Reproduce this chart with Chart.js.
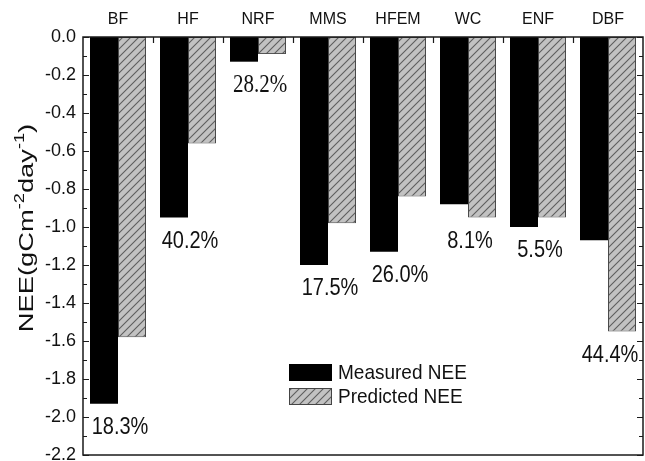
<!DOCTYPE html>
<html>
<head>
<meta charset="utf-8">
<script src="https://cdn.jsdelivr.net/npm/chart.js@4.4.1/dist/chart.umd.min.js"></script>
<style>
  html, body { margin: 0; padding: 0; background: #fff; }
  #wrap { width: 645px; height: 461px; }
</style>
</head>
<body>
<div id="wrap"><canvas id="c" width="645" height="461"></canvas></div>
<script>
// Ecosystem types and daily net ecosystem exchange (gC m-2 day-1)
const sites = ['BF', 'HF', 'NRF', 'MMS', 'HFEM', 'WC', 'ENF', 'DBF'];
const measuredNEE = [-1.93, -0.95, -0.13, -1.20, -1.13, -0.88, -1.00, -1.07];
const predictedNEE = [-1.58, -0.56, -0.09, -0.98, -0.84, -0.95, -0.95, -1.55];
// Relative error of the prediction for each site
const errorLabels = ['18.3%', '40.2%', '28.2%', '17.5%', '26.0%', '8.1%', '5.5%', '44.4%'];
const yTicks = [0.0, -0.2, -0.4, -0.6, -0.8, -1.0, -1.2, -1.4, -1.6, -1.8, -2.0, -2.2];

const SANS = 'Arial, "Liberation Sans", Helvetica, sans-serif';
const SERIF = '"Times New Roman", "Liberation Serif", serif';

// Diagonal hatch fill for the predicted bars
function makeHatch() {
  const s = 8;
  const p = document.createElement('canvas');
  p.width = s; p.height = s;
  const g = p.getContext('2d');
  g.fillStyle = '#c2c2c2';
  g.fillRect(0, 0, s, s);
  g.strokeStyle = '#5e5e5e';
  g.lineWidth = 1.1;
  g.beginPath();
  g.moveTo(0, s); g.lineTo(s, 0);
  g.moveTo(-s / 2, s / 2); g.lineTo(s / 2, -s / 2);
  g.moveTo(s / 2, s * 1.5); g.lineTo(s * 1.5, s / 2);
  g.stroke();
  return g.createPattern(p, 'repeat');
}
const hatch = makeHatch();

// Text drawn slightly taller than its width
function tallText(ctx, text, x, y, sy) {
  ctx.save();
  ctx.translate(x, y);
  ctx.scale(1, sy);
  ctx.fillText(text, 0, 0);
  ctx.restore();
}

// Frame, inward ticks, error labels, legend and the y-axis title
const decorations = {
  id: 'decorations',
  afterDatasetsDraw(chart) {
    const ctx = chart.ctx;
    const a = chart.chartArea;
    const y = chart.scales.y;
    const x = chart.scales.x;
    ctx.save();

    // frame
    ctx.strokeStyle = '#1a1a1a';
    ctx.lineWidth = 1.5;
    ctx.strokeRect(a.left, a.top, a.right - a.left, a.bottom - a.top);

    // inward ticks on left and right axes, every 0.1
    ctx.lineWidth = 1.2;
    ctx.beginPath();
    for (let i = 0; i <= 22; i++) {
      const py = Math.round(y.getPixelForValue(-i / 10)) + 0.5;
      const len = i % 2 === 0 ? 6 : 4;
      ctx.moveTo(a.left, py); ctx.lineTo(a.left + len, py);
      ctx.moveTo(a.right, py); ctx.lineTo(a.right - len, py);
    }
    // category boundary ticks on the top axis
    const n = sites.length;
    const step = (a.right - a.left) / n;
    for (let i = 1; i < n; i++) {
      const px = Math.round(a.left + i * step) + 0.5;
      ctx.moveTo(px, a.top); ctx.lineTo(px, a.top + 6);
    }
    ctx.stroke();

    // error labels under the deeper bar of each pair
    ctx.fillStyle = '#111';
    ctx.textAlign = 'center';
    ctx.textBaseline = 'middle';
    errorLabels.forEach((t, i) => {
      const deepest = Math.min(measuredNEE[i], predictedNEE[i]);
      const px = x.getPixelForValue(i);
      const py = y.getPixelForValue(deepest) + 24;
      ctx.font = (i === 2 ? '21px ' + SERIF : '20px ' + SANS);
      tallText(ctx, t, px + 2, py, 1.15);
    });

    // legend
    const lx = 289, lw = 43, lh = 17;
    const rows = [
      { y: 364, fill: '#000', stroke: null, label: chart.data.datasets[0].label },
      { y: 388, fill: hatch, stroke: '#444', label: chart.data.datasets[1].label }
    ];
    ctx.textAlign = 'left';
    ctx.font = '19px ' + SANS;
    rows.forEach(r => {
      ctx.fillStyle = r.fill;
      ctx.fillRect(lx, r.y, lw, lh);
      if (r.stroke) {
        ctx.strokeStyle = r.stroke;
        ctx.lineWidth = 1;
        ctx.strokeRect(lx + 0.5, r.y + 0.5, lw - 1, lh - 1);
      }
      ctx.fillStyle = '#111';
      tallText(ctx, r.label, lx + lw + 6, r.y + lh / 2 + 1, 1.1);
    });

    // y-axis title with superscripts
    const parts = [
      { t: 'NEE(gCm', sup: false }, { t: '-2', sup: true },
      { t: 'day', sup: false }, { t: '-1', sup: true }, { t: ')', sup: false }
    ];
    const big = '21px ' + SANS, small = '14px ' + SANS;
    let total = 0;
    parts.forEach(p => { ctx.font = p.sup ? small : big; p.w = ctx.measureText(p.t).width; total += p.w; });
    const stretch = 1.3;
    ctx.translate(33, 228);
    ctx.rotate(-Math.PI / 2);
    ctx.scale(stretch, 1);
    ctx.textBaseline = 'alphabetic';
    let cx = -total / 2;
    parts.forEach(p => {
      ctx.font = p.sup ? small : big;
      ctx.fillText(p.t, cx, p.sup ? -9 : 0);
      cx += p.w;
    });
    ctx.restore();
  }
};

new Chart(document.getElementById('c'), {
  type: 'bar',
  data: {
    labels: sites,
    datasets: [
      {
        label: 'Measured NEE',
        data: measuredNEE,
        backgroundColor: '#000',
        borderWidth: 0,
        categoryPercentage: 0.8,
        barPercentage: 1.0
      },
      {
        label: 'Predicted NEE',
        data: predictedNEE,
        backgroundColor: hatch,
        borderColor: '#4a4a4a',
        borderWidth: 1,
        borderSkipped: false,
        categoryPercentage: 0.8,
        barPercentage: 1.0
      }
    ]
  },
  options: {
    responsive: false,
    animation: false,
    layout: { padding: { left: 0, right: 2, top: 0, bottom: 6 } },
    plugins: {
      legend: { display: false },
      tooltip: { enabled: false }
    },
    scales: {
      x: {
        position: 'top',
        grid: { display: false, drawTicks: false },
        border: { display: false },
        ticks: { color: '#111', font: { family: SANS, size: 16 }, padding: 8 },
        afterFit(s) { s.height = 37; s.paddingLeft = 0; s.paddingRight = 0; }
      },
      y: {
        min: -2.2,
        max: 0,
        grid: { display: false, drawTicks: false },
        border: { display: false },
        afterBuildTicks(s) { s.ticks = yTicks.map(v => ({ value: v })); },
        ticks: {
          color: '#111',
          font: { family: SANS, size: 18 },
          padding: 7,
          callback: v => Number(v).toFixed(1)
        },
        afterFit(s) { s.width = 83; s.paddingTop = 0; s.paddingBottom = 0; }
      }
    }
  },
  plugins: [decorations]
});
</script>
</body>
</html>
